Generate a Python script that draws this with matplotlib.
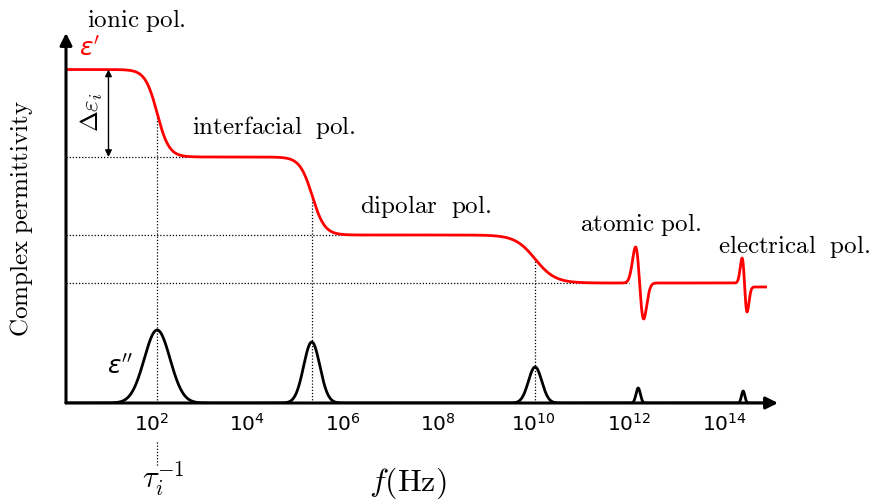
import matplotlib
matplotlib.use("Agg")
import matplotlib.pyplot as plt
import numpy as np

# relaxation steps of eps' (log10 of frequency, drop width in decades)
step_centers = [2.11, 5.36, 10.03, 14.42]
step_widths = [0.125, 0.13, 0.21, 0.05]
# plateau values of eps' from low to high frequency
plateaus = [33.35, 24.6, 16.8, 12.0, 11.6]

# resonances (atomic, electrical) in eps'
res_centers = [12.22, 14.42]
res_amps = [3.6, 2.6]
res_widths = [0.085, 0.052]

# loss peaks of eps''
peak_centers = [2.11, 5.35, 10.03, 12.19, 14.39]
peak_heights = [7.3, 6.1, 3.6, 1.5, 1.2]
peak_widths = [0.27, 0.17, 0.14, 0.045, 0.035]

tick_exponents = [2, 4, 6, 8, 10, 12, 14]
log_min, log_max, log_end = 0.2, 15.12, 14.89
y_top = 37.0

logf = np.linspace(log_min, log_end, 5000)

eps_real = np.full_like(logf, plateaus[-1])
for c, w, hi, lo in zip(step_centers, step_widths, plateaus[:-1], plateaus[1:]):
    eps_real += (hi - lo) / (1 + np.exp((logf - c) / w))
for c, a, w in zip(res_centers, res_amps, res_widths):
    u = (logf - c) / w
    eps_real += -a * u * np.exp(0.5 - u ** 2 / 2)

eps_imag = np.zeros_like(logf)
for c, h, w in zip(peak_centers, peak_heights, peak_widths):
    eps_imag += h * np.exp(-0.5 * ((logf - c) / w) ** 2)


def level_at(lf):
    return np.interp(lf, logf, eps_real)


fig = plt.figure(figsize=(8.72, 4.99), dpi=100)
ax = fig.add_axes([66 / 872, 96 / 499, 712 / 872, 370 / 499])
ax.set_xscale("log")
ax.set_xlim(10 ** log_min, 10 ** log_max)
ax.set_ylim(0, y_top)
for sp in ax.spines.values():
    sp.set_visible(False)
ax.set_yticks([])
ax.set_xticks([10.0 ** e for e in tick_exponents])
ax.xaxis.set_minor_locator(matplotlib.ticker.NullLocator())
ax.tick_params(axis="x", length=0, pad=7, labelsize=14.5)

# axes drawn as arrows
arrow = dict(arrowstyle="-|>", lw=2.2, color="k", mutation_scale=18, shrinkA=0, shrinkB=0)
ax.annotate("", xy=(1, 0), xytext=(0, 0), xycoords="axes fraction", arrowprops=arrow)
ax.annotate("", xy=(0, 1), xytext=(0, 0), xycoords="axes fraction", arrowprops=arrow)

# dotted guide lines
dot = dict(color="k", lw=0.9, linestyle=(0, (1, 1.5)))
ax.plot([10 ** log_min, 10 ** 2.75], [plateaus[1]] * 2, **dot)
ax.plot([10 ** log_min, 10 ** 6.5], [plateaus[2]] * 2, **dot)
ax.plot([10 ** log_min, 10 ** 12.0], [plateaus[3]] * 2, **dot)
for c in step_centers[:3]:
    ax.plot([10 ** c] * 2, [0, level_at(c)], **dot)
ax.plot([10 ** step_centers[0]] * 2, [-3.9, -6.4], clip_on=False, **dot)

ax.plot(10 ** logf, eps_real, color="red", lw=2, solid_capstyle="butt")
ax.plot(10 ** logf, eps_imag, color="k", lw=2)

# delta eps_i bracket
ax.annotate("", xy=(10 ** 1.09, plateaus[0]), xytext=(10 ** 1.09, plateaus[1]),
            arrowprops=dict(arrowstyle="<|-|>", lw=1.0, color="k",
                            mutation_scale=10, shrinkA=0, shrinkB=0))
ax.text(10 ** 0.74, 29.1, r"$\Delta\varepsilon_i$", math_fontfamily="cm",
        fontsize=18, rotation=90, ha="center", va="center")

cm = dict(math_fontfamily="cm", ha="center", va="center", fontsize=18)
ax.text(10 ** 1.675, 38.3, r"$\mathrm{ionic\ pol.}$", **cm)
ax.text(10 ** 4.565, 27.6, r"$\mathrm{interfacial\ \ pol.}$", **cm)
ax.text(10 ** 7.73, 19.6, r"$\mathrm{dipolar\ \ pol.}$", **cm)
ax.text(10 ** 12.23, 17.9, r"$\mathrm{atomic\ pol.}$", **cm)
ax.text(10 ** 15.45, 15.6, r"$\mathrm{electrical\ \ pol.}$", clip_on=False, **cm)

ax.text(10 ** 0.69, 35.4, r"$\varepsilon'$", color="red", fontsize=18,
        ha="center", va="center")
ax.text(10 ** 1.34, 3.6, r"$\varepsilon''$", color="k", fontsize=18,
        ha="center", va="center")

ax.text(10 ** 2.24, -7.6, r"$\tau_i^{-1}$", math_fontfamily="cm", fontsize=22,
        ha="center", va="center")
ax.text(10 ** 7.37, -8.0, r"$f(\mathrm{Hz})$", math_fontfamily="cm", fontsize=23,
        ha="center", va="center")
ax.text(-0.062, 0.5, r"$\mathrm{Complex\ permittivity}$", math_fontfamily="cm",
        fontsize=18, rotation=90, ha="center", va="center", transform=ax.transAxes)

fig.savefig("out.png", dpi=100)
